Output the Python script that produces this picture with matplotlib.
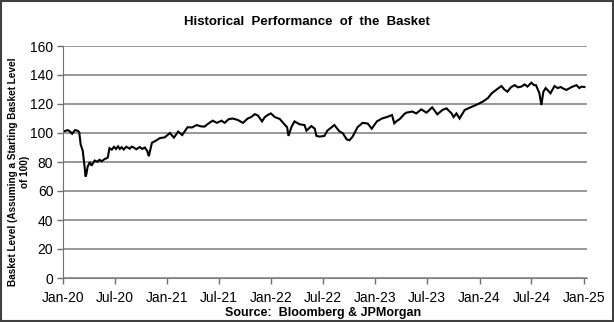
import matplotlib
matplotlib.use("Agg")
import matplotlib.pyplot as plt
import matplotlib.dates as mdates
import matplotlib.patches as mpatches
import pandas as pd

plt.rcParams['font.family'] = ['Liberation Sans', 'DejaVu Sans']

# basket level readings (start = 100)
dates = [
    "2020-01-01", "2020-01-10", "2020-01-18", "2020-01-27", "2020-02-02",
    "2020-02-12", "2020-02-22", "2020-02-27", "2020-03-03", "2020-03-10",
    "2020-03-16", "2020-03-20", "2020-03-23", "2020-03-27", "2020-04-04",
    "2020-04-10", "2020-04-21", "2020-05-01", "2020-05-08", "2020-05-15",
    "2020-05-26", "2020-06-06", "2020-06-12", "2020-06-20", "2020-06-28",
    "2020-07-05", "2020-07-12", "2020-07-18", "2020-07-25", "2020-08-01",
    "2020-08-10", "2020-08-22", "2020-08-29", "2020-09-05", "2020-09-14",
    "2020-09-26", "2020-10-05", "2020-10-14", "2020-10-22", "2020-10-28",
    "2020-11-08", "2020-11-20", "2020-12-06",
    "2020-12-23", "2021-01-10", "2021-01-24", "2021-02-08", "2021-02-22",
    "2021-03-13", "2021-03-28", "2021-04-14", "2021-04-28", "2021-05-11",
    "2021-05-25", "2021-06-09", "2021-06-24", "2021-07-10", "2021-07-21",
    "2021-08-04", "2021-08-18", "2021-09-05", "2021-09-23", "2021-10-10",
    "2021-10-22", "2021-11-04", "2021-11-15", "2021-11-29", "2021-12-09",
    "2021-12-20", "2021-12-30", "2022-01-13", "2022-01-31", "2022-02-11",
    "2022-02-25", "2022-03-02", "2022-03-12", "2022-03-23", "2022-04-10",
    "2022-04-27", "2022-05-04", "2022-05-21", "2022-06-02", "2022-06-08",
    "2022-06-19", "2022-07-06", "2022-07-16", "2022-07-28", "2022-08-10",
    "2022-08-28", "2022-09-08", "2022-09-22", "2022-10-02", "2022-10-13",
    "2022-10-30", "2022-11-17", "2022-12-05", "2022-12-19", "2023-01-06",
    "2023-01-24", "2023-02-10", "2023-02-28", "2023-03-08", "2023-03-18",
    "2023-03-26", "2023-04-12", "2023-04-19", "2023-05-10", "2023-05-24",
    "2023-06-11", "2023-06-29", "2023-07-19", "2023-08-06", "2023-08-24",
    "2023-09-07", "2023-09-25", "2023-10-02", "2023-10-12", "2023-10-23",
    "2023-11-10", "2023-12-04", "2023-12-25", "2024-01-12", "2024-01-30",
    "2024-02-13", "2024-03-01", "2024-03-18", "2024-03-28", "2024-04-08",
    "2024-04-20", "2024-05-03", "2024-05-15", "2024-05-27", "2024-06-07",
    "2024-06-17", "2024-07-01", "2024-07-10", "2024-07-17", "2024-07-29",
    "2024-08-05", "2024-08-12", "2024-08-20", "2024-09-06", "2024-09-20",
    "2024-10-01", "2024-10-12", "2024-10-22", "2024-11-01", "2024-11-19",
    "2024-12-06", "2024-12-16", "2024-12-24", "2025-01-03",
]
levels = [
    101.0, 101.5, 102.0, 100.8, 99.5,
    102.0, 101.5, 100.5, 92.0, 88.0,
    78.0, 70.0, 71.5, 76.5, 80.0,
    77.5, 81.0, 80.2, 81.5, 80.5,
    82.0, 83.0, 89.5, 88.5, 90.5,
    89.0, 90.8, 89.0, 90.2, 88.6,
    90.5, 89.2, 90.6, 90.0, 88.8,
    90.3, 89.0, 90.0, 87.8, 84.0,
    93.3, 94.5, 96.5,
    97.0, 100.0, 96.8, 101.0, 98.6,
    104.0, 103.8, 105.5, 104.6, 104.4,
    106.5, 108.5, 107.0, 108.5, 107.0,
    109.5, 110.0, 109.0, 107.0, 110.0,
    111.0, 113.0, 112.0, 108.0, 111.0,
    112.5, 113.5, 111.0, 109.6, 107.0,
    104.0, 98.0, 104.0, 108.0, 106.0,
    105.5, 101.6, 104.8, 103.0, 98.0,
    97.5, 98.0, 101.6, 103.5, 105.5,
    101.0, 100.0, 95.6, 95.0, 97.5,
    104.0, 107.0, 106.5, 103.0, 108.0,
    110.0, 111.0, 112.4, 106.7, 108.5,
    109.4, 113.0, 114.0, 114.8, 113.5,
    116.3, 114.0, 117.7, 112.9, 115.9,
    117.0, 113.5, 111.0, 113.5, 110.0,
    115.9, 118.0, 119.8, 121.6, 124.0,
    127.4, 130.0, 132.4, 130.0, 128.5,
    131.5, 133.0, 131.5, 132.0, 133.5,
    132.0, 134.7, 133.0, 133.0, 127.4,
    119.3, 128.5, 131.0, 127.4, 132.4,
    131.0, 131.7, 130.5, 129.7, 131.7,
    133.0, 131.0, 132.0, 131.7,
]
yticks = [0, 20, 40, 60, 80, 100, 120, 140, 160]
xticks = ["2020-01-01", "2020-07-01", "2021-01-01", "2021-07-01", "2022-01-01",
          "2022-07-01", "2023-01-01", "2023-07-01", "2024-01-01", "2024-07-01",
          "2025-01-01"]

dates = pd.to_datetime(dates)
xticks = pd.to_datetime(xticks)

fig = plt.figure(figsize=(6.14, 3.22), dpi=100)
ax = fig.add_axes([63 / 614, 44 / 322, (587 - 63) / 614, (278 - 46) / 322])

ax.plot(dates, levels, color='black', linewidth=1.5, solid_joinstyle='miter')

ax.set_ylim(0, 160)
ax.set_yticks(yticks)
ax.set_xlim(pd.Timestamp("2020-01-01"), pd.Timestamp("2025-01-12"))
ax.set_xticks(xticks)
ax.xaxis.set_major_formatter(mdates.DateFormatter('%b-%y'))

ax.grid(axis='y', color='#868686', linewidth=1.2)
ax.set_axisbelow(True)
for side in ('top', 'right'):
    ax.spines[side].set_visible(False)
ax.spines['left'].set_color('#707070')
ax.spines['bottom'].set_color('#808080')
ax.tick_params(axis='both', direction='out', length=4, color='#707070',
               labelsize=10, width=1)
ax.tick_params(axis='x', pad=5)
ax.tick_params(axis='y', pad=3)

# y-axis title, two centred lines
fig.text(19 / 614, 1 - 172 / 322,
         "Basket Level (Assuming a Starting Basket Level\nof 100)",
         rotation=90, ha='center', va='center', multialignment='center',
         fontsize=7.2, fontweight='bold', linespacing=1.3)

fig.text(0.5, 1 - 22 / 322, "Historical  Performance  of  the  Basket",
         ha='center', va='center', fontsize=9.5, fontweight='bold')
fig.text(323 / 614, 1 - 313 / 322, "Source:  Bloomberg & JPMorgan",
         ha='center', va='center', fontsize=9, fontweight='bold')

# outer frame around the whole chart
fig.patches.append(mpatches.Rectangle((0.0015, 0.003), 0.997, 0.994,
                                      transform=fig.transFigure, fill=False,
                                      edgecolor='#404040', linewidth=1.5))

fig.savefig("out.png", dpi=100)
